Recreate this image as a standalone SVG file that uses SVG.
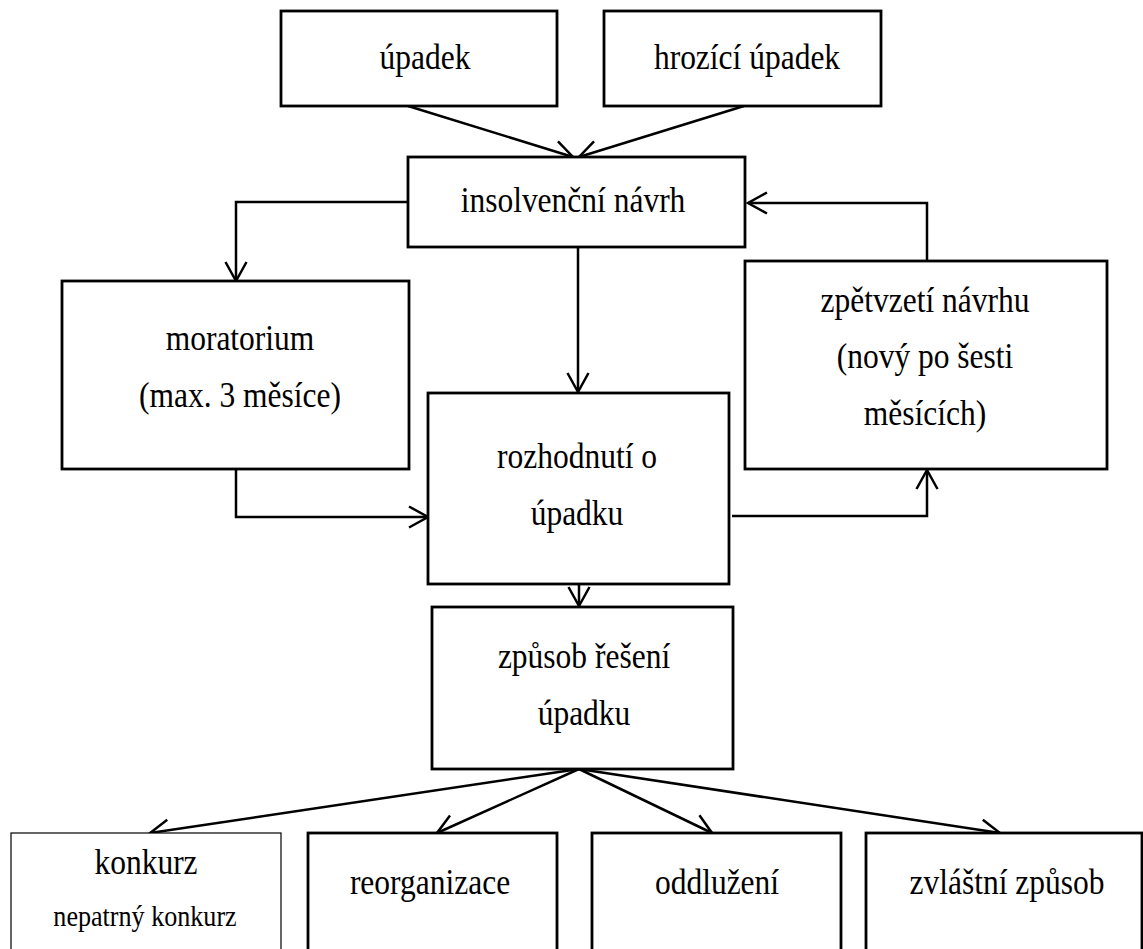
<svg xmlns="http://www.w3.org/2000/svg" width="1143" height="949" viewBox="0 0 1143 949">
<style>
.box{fill:#fff;stroke:#000;stroke-width:2.8}
.thin{fill:#fff;stroke:#000;stroke-width:1.2}
.t{font-family:"Liberation Serif","Times New Roman",serif;font-size:35px;fill:#000;text-anchor:middle}
.s{font-size:29px}
.c{fill:none;stroke:#000;stroke-width:2.5}
</style>
<defs>
<marker id="arr" viewBox="-22 -13 26 26" refX="0" refY="0" markerWidth="26" markerHeight="26" markerUnits="userSpaceOnUse" orient="auto" overflow="visible">
<path d="M-19,-10.5 L0,0 L-19,10.5" fill="none" stroke="#000" stroke-width="2.5"/>
</marker>
</defs>
<rect width="1143" height="949" fill="#fff"/>
<g id="connectors">
<line class="c" x1="408" y1="106" x2="573" y2="157" marker-end="url(#arr)"/>
<line class="c" x1="744" y1="106" x2="579" y2="157" marker-end="url(#arr)"/>
<polyline class="c" points="408,202 236,202 236,281" marker-end="url(#arr)"/>
<line class="c" x1="578" y1="247" x2="578" y2="392" marker-end="url(#arr)"/>
<polyline class="c" points="236,469 236,517 428,517" marker-end="url(#arr)"/>
<polyline class="c" points="732,516 927,516 927,470" marker-end="url(#arr)"/>
<polyline class="c" points="927,261 927,203 748,203" marker-end="url(#arr)"/>
<line class="c" x1="579" y1="584" x2="579" y2="606" marker-end="url(#arr)"/>
<line class="c" x1="579" y1="769" x2="150" y2="833" marker-end="url(#arr)"/>
<line class="c" x1="579" y1="769" x2="437" y2="833" marker-end="url(#arr)"/>
<line class="c" x1="579" y1="769" x2="712" y2="833" marker-end="url(#arr)"/>
<line class="c" x1="579" y1="769" x2="1000" y2="833" marker-end="url(#arr)"/>
</g>
<g id="upadek"><rect class="box" x="281" y="11" width="276" height="95"/><text class="t" transform="translate(425,69) scale(0.9,1)">úpadek</text></g>
<g id="hrozici"><rect class="box" x="604" y="11" width="277" height="95"/><text class="t" transform="translate(747,69) scale(0.9,1)">hrozící úpadek</text></g>
<g id="insolvencni"><rect class="box" x="408" y="157" width="337" height="90"/><text class="t" transform="translate(573,212) scale(0.9,1)">insolvenční návrh</text></g>
<g id="moratorium"><rect class="box" x="62" y="281" width="347" height="188"/><text class="t" transform="translate(240,350) scale(0.9,1)">moratorium</text><text class="t" transform="translate(240,407) scale(0.9,1)">(max. 3 měsíce)</text></g>
<g id="rozhodnuti"><rect class="box" x="428" y="393" width="301" height="191"/><text class="t" transform="translate(577,468) scale(0.9,1)">rozhodnutí o</text><text class="t" transform="translate(577,525) scale(0.9,1)">úpadku</text></g>
<g id="zpetvzeti"><rect class="box" x="745" y="261" width="362" height="208"/><text class="t" transform="translate(925,312) scale(0.9,1)">zpětvzetí návrhu</text><text class="t" transform="translate(925,368) scale(0.9,1)">(nový po šesti</text><text class="t" transform="translate(925,425) scale(0.9,1)">měsících)</text></g>
<g id="zpusob"><rect class="box" x="432" y="607" width="301" height="162"/><text class="t" transform="translate(584,668) scale(0.9,1)">způsob řešení</text><text class="t" transform="translate(584,725) scale(0.9,1)">úpadku</text></g>
<g id="konkurz"><rect class="thin" x="11" y="833" width="270" height="130"/><text class="t" transform="translate(146,874) scale(0.9,1)">konkurz</text><text class="t s" transform="translate(145,926) scale(0.9,1)">nepatrný konkurz</text></g>
<g id="reorganizace"><rect class="box" x="308" y="833" width="249" height="130"/><text class="t" transform="translate(430,894) scale(0.9,1)">reorganizace</text></g>
<g id="oddluzeni"><rect class="box" x="592" y="833" width="249" height="130"/><text class="t" transform="translate(717,894) scale(0.9,1)">oddlužení</text></g>
<g id="zvlastni"><rect class="box" x="866" y="833" width="276" height="130"/><text class="t" transform="translate(1007,894) scale(0.9,1)">zvláštní způsob</text></g>
</svg>
